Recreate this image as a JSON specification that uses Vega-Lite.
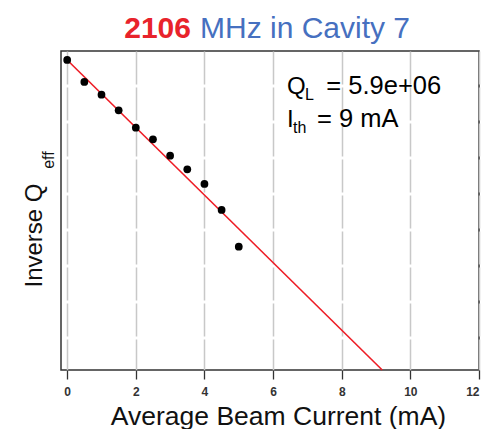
{
  "$schema": "https://vega.github.io/schema/vega-lite/v6.json",
  "autosize": {"type": "none"},
  "padding": {"left": 61, "top": 51, "right": 11, "bottom": 59},
  "width": 418,
  "height": 319,
  "background": "white",
  "config": {
    "font": "Liberation Sans",
    "view": {"stroke": "#333333", "strokeWidth": 1.5}
  },
  "datasets": {
    "points": [
      {"current": 0, "invq": 1.695},
      {"current": 0.5, "invq": 1.575},
      {"current": 1, "invq": 1.505},
      {"current": 1.5, "invq": 1.42},
      {"current": 2, "invq": 1.325},
      {"current": 2.5, "invq": 1.261},
      {"current": 3, "invq": 1.172},
      {"current": 3.5, "invq": 1.097},
      {"current": 4, "invq": 1.017},
      {"current": 4.5, "invq": 0.875},
      {"current": 5, "invq": 0.674}
    ],
    "fit": [
      {"current": 0, "invq": 1.695},
      {"current": 9.18, "invq": 0}
    ]
  },
  "layer": [
    {
      "data": {"name": "fit"},
      "mark": {"type": "line", "color": "#ee1c25", "strokeWidth": 1.6},
      "encoding": {
        "x": {
          "field": "current", "type": "quantitative",
          "scale": {"domain": [-0.18, 12], "nice": false, "zero": false},
          "axis": {
            "values": [0, 2, 4, 6, 8, 10, 12],
            "domain": false,
            "grid": true, "gridColor": "#c8c8c8", "gridWidth": 1.5, "gridDash": [33, 3],
            "ticks": true, "tickSize": 9, "tickColor": "#333333", "tickWidth": 1.3,
            "labelFontSize": 12, "labelFontWeight": "bold", "labelColor": "#333333", "labelPadding": 7,
            "title": "Average Beam Current (mA)",
            "titleFontSize": 26.5, "titleFontWeight": "normal", "titleColor": "#111111",
            "titleX": 217, "titleY": 54, "titleAlign": "center", "titleBaseline": "alphabetic"
          }
        },
        "y": {
          "field": "invq", "type": "quantitative",
          "scale": {"domain": [0, 1.744], "nice": false, "zero": false},
          "axis": {
            "domain": false, "grid": false, "ticks": false, "labels": false,
            "title": "Inverse Q",
            "titleFontSize": 24, "titleFontWeight": "normal", "titleColor": "#111111",
            "titleAngle": 270, "titleAlign": "left", "titleBaseline": "alphabetic",
            "titleX": -20, "titleY": 236
          }
        }
      }
    },
    {
      "data": {"name": "points"},
      "mark": {"type": "point", "filled": true, "color": "#000000", "size": 60, "opacity": 1},
      "encoding": {
        "x": {"field": "current", "type": "quantitative"},
        "y": {"field": "invq", "type": "quantitative"}
      }
    },
    {
      "data": {"values": [{"label": "2106"}]},
      "mark": {"type": "text", "align": "right", "baseline": "alphabetic", "fontSize": 30, "fontWeight": "bold", "color": "#e8232b"},
      "encoding": {"x": {"datum": 3.608, "type": "quantitative"}, "y": {"datum": 1.815, "type": "quantitative"}, "text": {"field": "label"}}
    },
    {
      "data": {"values": [{"label": "MHz in Cavity 7"}]},
      "mark": {"type": "text", "align": "left", "baseline": "alphabetic", "fontSize": 30, "color": "#4670c0"},
      "encoding": {"x": {"datum": 3.87, "type": "quantitative"}, "y": {"datum": 1.815, "type": "quantitative"}, "text": {"field": "label"}}
    },
    {
      "data": {"values": [{"label": "Q"}]},
      "mark": {"type": "text", "align": "left", "baseline": "alphabetic", "fontSize": 24, "color": "#000000"},
      "encoding": {"x": {"datum": 6.405, "type": "quantitative"}, "y": {"datum": 1.511, "type": "quantitative"}, "text": {"field": "label"}}
    },
    {
      "data": {"values": [{"label": "L"}]},
      "mark": {"type": "text", "align": "left", "baseline": "alphabetic", "fontSize": 16, "color": "#000000"},
      "encoding": {"x": {"datum": 6.93, "type": "quantitative"}, "y": {"datum": 1.476, "type": "quantitative"}, "text": {"field": "label"}}
    },
    {
      "data": {"values": [{"label": "= 5.9e+06"}]},
      "mark": {"type": "text", "align": "left", "baseline": "alphabetic", "fontSize": 25.5, "color": "#000000"},
      "encoding": {"x": {"datum": 7.55, "type": "quantitative"}, "y": {"datum": 1.511, "type": "quantitative"}, "text": {"field": "label"}}
    },
    {
      "data": {"values": [{"label": "I"}]},
      "mark": {"type": "text", "align": "left", "baseline": "alphabetic", "fontSize": 24, "color": "#000000"},
      "encoding": {"x": {"datum": 6.405, "type": "quantitative"}, "y": {"datum": 1.33, "type": "quantitative"}, "text": {"field": "label"}}
    },
    {
      "data": {"values": [{"label": "th"}]},
      "mark": {"type": "text", "align": "left", "baseline": "alphabetic", "fontSize": 16, "color": "#000000"},
      "encoding": {"x": {"datum": 6.58, "type": "quantitative"}, "y": {"datum": 1.296, "type": "quantitative"}, "text": {"field": "label"}}
    },
    {
      "data": {"values": [{"label": "= 9 mA"}]},
      "mark": {"type": "text", "align": "left", "baseline": "alphabetic", "fontSize": 25.5, "color": "#000000"},
      "encoding": {"x": {"datum": 7.279, "type": "quantitative"}, "y": {"datum": 1.33, "type": "quantitative"}, "text": {"field": "label"}}
    },
    {
      "data": {"values": [{"label": "eff"}]},
      "mark": {"type": "text", "align": "left", "baseline": "alphabetic", "angle": 270, "fontSize": 16, "color": "#111111"},
      "encoding": {"x": {"datum": -0.37, "type": "quantitative"}, "y": {"datum": 1.1, "type": "quantitative"}, "text": {"field": "label"}}
    }
  ]
}
